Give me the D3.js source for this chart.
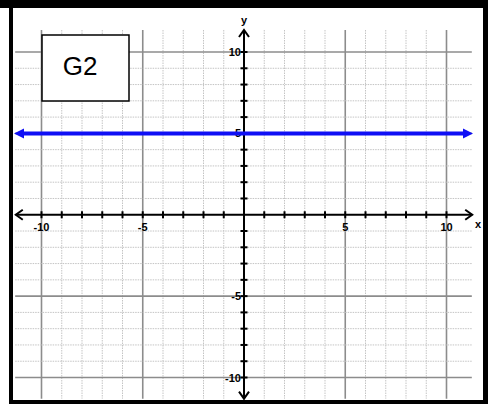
<!DOCTYPE html>
<meta charset="utf-8" />
<head>
  <style>
    body { margin: 0; background: #fff; }
    svg text { font-family: "Liberation Sans", Arial, sans-serif; }
  </style>
</head>
<script src="https://d3js.org/d3.v7.min.js"></script>
<body>
  <svg id="chart" width="488" height="407"></svg>
  <script>
    // data
    const gridValues = d3.range(-10, 11);          // one grid line per unit
    const axisLabelsX = [-10, -5, 5, 10];
    const axisLabelsY = [-10, -5, 5, 10];
    const lineValue = 5;                            // y = 5
    const title = "G2";

    const svg = d3.select("#chart");

    // scales (grid is -10..10, axes run a bit past)
    const x = d3.scaleLinear().domain([-10, 10]).range([41.5, 446.5]);
    const y = d3.scaleLinear().domain([-10, 10]).range([377.5, 52]);
    const ext = 11.27;

    const major = (v) => v !== 0 && v % 5 === 0;

    // grid lines
    const grid = svg.append("g");
    grid.selectAll("line.v")
      .data(gridValues.filter((v) => v !== 0))
      .join("line")
      .attr("class", "v")
      .attr("x1", (d) => x(d)).attr("x2", (d) => x(d))
      .attr("y1", y(11.35)).attr("y2", y(-11.3))
      .attr("stroke", (d) => (major(d) ? "#8c8c8c" : "#c4c4c4"))
      .attr("stroke-width", (d) => (major(d) ? 1.6 : 1))
      .attr("stroke-dasharray", (d) => (major(d) ? null : "1.5,1"));
    grid.selectAll("line.h")
      .data(gridValues.filter((v) => v !== 0))
      .join("line")
      .attr("class", "h")
      .attr("y1", (d) => y(d)).attr("y2", (d) => y(d))
      .attr("x1", x(-11.3)).attr("x2", x(11.25))
      .attr("stroke", (d) => (major(d) ? "#8c8c8c" : "#c4c4c4"))
      .attr("stroke-width", (d) => (major(d) ? 1.6 : 1))
      .attr("stroke-dasharray", (d) => (major(d) ? null : "1.5,1"));

    // axes
    const axes = svg.append("g").attr("stroke", "#000").attr("stroke-width", 2).attr("fill", "none");
    axes.append("line").attr("x1", x(-ext)).attr("x2", x(ext)).attr("y1", y(0)).attr("y2", y(0));
    axes.append("line").attr("x1", x(0)).attr("x2", x(0)).attr("y1", y(11.35)).attr("y2", y(-11.3));
    // open arrow heads
    const x0 = x(-ext), x1 = x(ext), y0 = y(11.35), y1 = y(-11.3);
    axes.append("path").attr("d", `M${x0 + 7},${y(0) - 5}L${x0},${y(0)}L${x0 + 7},${y(0) + 5}`);
    axes.append("path").attr("d", `M${x1 - 7},${y(0) - 5}L${x1},${y(0)}L${x1 - 7},${y(0) + 5}`);
    axes.append("path").attr("d", `M${x(0) - 5},${y0 + 7}L${x(0)},${y0}L${x(0) + 5},${y0 + 7}`);
    axes.append("path").attr("d", `M${x(0) - 5},${y1 - 7}L${x(0)},${y1}L${x(0) + 5},${y1 - 7}`);

    // tick marks
    const ticks = gridValues.filter((v) => v !== 0);
    axes.selectAll("line.tx").data(ticks).join("line")
      .attr("class", "tx")
      .attr("x1", (d) => x(d)).attr("x2", (d) => x(d))
      .attr("y1", y(0) - 3.5).attr("y2", y(0) + 3.5);
    axes.selectAll("line.ty").data(ticks).join("line")
      .attr("class", "ty")
      .attr("y1", (d) => y(d)).attr("y2", (d) => y(d))
      .attr("x1", x(0) - 3.5).attr("x2", x(0) + 3.5);

    // tick labels
    svg.append("g").selectAll("text").data(axisLabelsX).join("text")
      .attr("x", (d) => x(d)).attr("y", y(0) + 16)
      .attr("text-anchor", "middle")
      .attr("font-size", 11).attr("font-weight", 700)
      .text((d) => d);
    svg.append("g").selectAll("text").data(axisLabelsY).join("text")
      .attr("x", x(0) - 3).attr("y", (d) => y(d) + 4)
      .attr("text-anchor", "end")
      .attr("font-size", 11).attr("font-weight", 700)
      .text((d) => d);

    // axis names
    svg.append("text").attr("x", 478).attr("y", y(0) + 13)
      .attr("text-anchor", "middle").attr("font-size", 11).attr("font-weight", 700).text("x");
    svg.append("text").attr("x", x(0)).attr("y", 24)
      .attr("text-anchor", "middle").attr("font-size", 11).attr("font-weight", 700).text("y");

    // the line y = 5 with arrow heads
    const blue = "#0f0ff5";
    const bx0 = 14, bx1 = 473;
    const by = y(lineValue);
    svg.append("line")
      .attr("x1", bx0 + 6).attr("x2", bx1 - 6)
      .attr("y1", by).attr("y2", by)
      .attr("stroke", blue).attr("stroke-width", 4);
    svg.append("path").attr("fill", blue)
      .attr("d", `M${bx0},${by}L${bx0 + 10},${by - 5}L${bx0 + 10},${by + 5}Z`);
    svg.append("path").attr("fill", blue)
      .attr("d", `M${bx1},${by}L${bx1 - 10},${by - 5}L${bx1 - 10},${by + 5}Z`);

    // label box
    svg.append("rect")
      .attr("x", 42).attr("y", 35).attr("width", 87).attr("height", 66)
      .attr("fill", "#fff").attr("stroke", "#000").attr("stroke-width", 1.5);
    svg.append("text")
      .attr("x", 80).attr("y", 74.5)
      .attr("text-anchor", "middle")
      .attr("font-size", 26)
      .text(title);

    // frame
    const frame = svg.append("g").attr("fill", "#000");
    frame.append("rect").attr("x", 0).attr("y", 0).attr("width", 488).attr("height", 8);
    frame.append("rect").attr("x", 9).attr("y", 0).attr("width", 4).attr("height", 404);
    frame.append("rect").attr("x", 483).attr("y", 0).attr("width", 5).attr("height", 404);
    frame.append("rect").attr("x", 9).attr("y", 400).attr("width", 479).attr("height", 4);
  </script>
</body>
